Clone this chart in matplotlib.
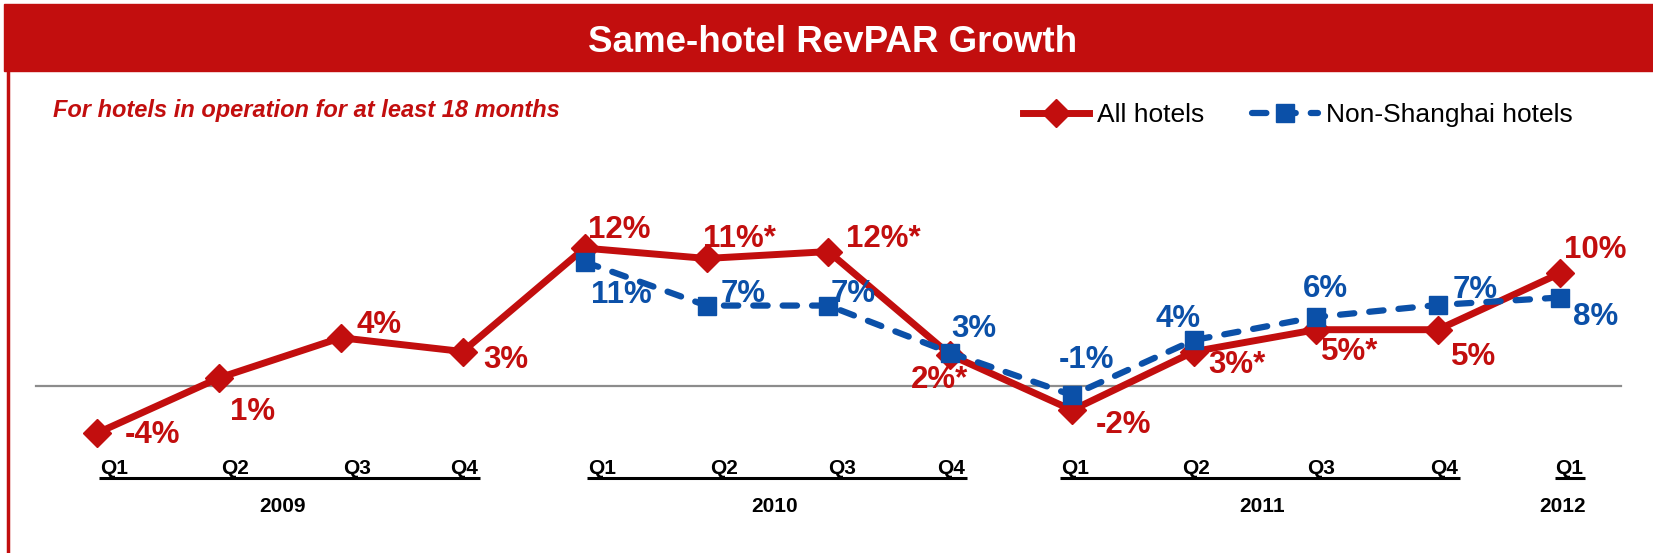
import numpy as np
import matplotlib
matplotlib.use('Agg')
import matplotlib.pyplot as plt
from matplotlib.patches import Rectangle
from matplotlib.lines import Line2D

plt.rcParams['font.family'] = ['Liberation Sans', 'DejaVu Sans']

# ---------------------------------------------------------------- data
quarters = ['Q1', 'Q2', 'Q3', 'Q4', 'Q1', 'Q2', 'Q3', 'Q4',
            'Q1', 'Q2', 'Q3', 'Q4', 'Q1']
years = ['2009', '2010', '2011', '2012']
year_groups = [[0, 1, 2, 3], [4, 5, 6, 7], [8, 9, 10, 11], [12]]

all_hotels = [-4.1, 0.7, 4.2, 3.0, 12.0, 11.1, 11.7, 2.7, -2.1, 3.0, 4.9, 4.9, 9.8]
all_labels = ['-4%', '1%', '4%', '3%', '12%', '11%*', '12%*', '2%*',
              '-2%', '3%*', '5%*', '5%', '10%']

non_sh_idx = [4, 5, 6, 7, 8, 9, 10, 11, 12]
non_sh = [10.8, 7.0, 7.0, 2.9, -0.8, 4.0, 6.0, 7.05, 7.7]
non_sh_labels = ['11%', '7%', '7%', '3%', '-1%', '4%', '6%', '7%', '8%']

# ---------------------------------------------------------------- styles
RED = '#C20E0E'
BLUE = '#0B50A8'
W, H = 1653, 553

# label offsets (pixels, +x right, +y down)
all_off = [(56, 0), (34, 32), (38, -15), (43, 6), (35, -20), (33, -21),
           (55, -15), (-11, 23), (51, 13), (43, 11), (34, 20), (36, 25), (35, -25)]
non_off = [(37, 31), (37, -14), (25, -14), (24, -26), (14, -37), (-16, -23),
           (9, -30), (37, -17), (36, 17)]

# label positions for quarter ticks (index units)
q_pos = [0.14, 1.13, 2.13, 3.01, 4.14, 5.14, 6.11, 7.01,
         8.02, 9.02, 10.04, 11.05, 12.08]
year_pos = [1.52, 5.56, 9.56, 12.02]

fig = plt.figure(figsize=(W / 100, H / 100), dpi=100)
ax = fig.add_axes([0, 0, 1, 1])
ax.axis('off')

# map pixel layout: index 0 at x=97px, step 121.9px; zero at y=386px, 11.49px per %
x0, dx = 97, 121.9
y0, dy = 386, 11.49
ax.set_xlim(-x0 / dx, (W - x0) / dx)
ax.set_ylim(-(H - y0) / dy, y0 / dy)

# title bar
fig.patches.append(Rectangle((4 / W, 1 - 71 / H), 1, 67 / H,
                             transform=fig.transFigure, color=RED, zorder=0))
fig.text(833 / W, 1 - 42 / H, 'Same-hotel RevPAR Growth', color='white',
         fontsize=26.5, fontweight='bold', ha='center', va='center')
fig.add_artist(Line2D([8 / W, 8 / W], [0, 1 - 71 / H], color=RED, lw=2.5,
                      transform=fig.transFigure))
fig.text(53 / W, 1 - 110 / H, 'For hotels in operation for at least 18 months',
         color=RED, fontsize=17, fontweight='bold', fontstyle='italic',
         ha='left', va='center')

# zero line
ax.axhline(0, xmin=36 / W, xmax=1621 / W, color='#8C8C8C', lw=1.6, zorder=1)

x_all = np.arange(len(all_hotels))
ax.plot(x_all, all_hotels, color=RED, lw=5, marker='D', markersize=14,
        solid_joinstyle='miter', zorder=3, label='All hotels')
ax.plot(non_sh_idx, non_sh, color=BLUE, lw=4.5, ls=(0, (2.3, 2.4)),
        dash_capstyle='round', marker='s', markersize=13, zorder=4,
        label='Non-Shanghai hotels')

for i, (v, t, o) in enumerate(zip(all_hotels, all_labels, all_off)):
    ax.annotate(t, (i, v), xytext=(o[0], -o[1] - 2), textcoords='offset pixels',
                color=RED, fontsize=22.5, fontweight='bold',
                ha='center', va='center', zorder=5)
for i, v, t, o in zip(non_sh_idx, non_sh, non_sh_labels, non_off):
    ax.annotate(t, (i, v), xytext=(o[0], -o[1] - 2), textcoords='offset pixels',
                color=BLUE, fontsize=22.5, fontweight='bold',
                ha='center', va='center', zorder=5)

# quarter / year axis labels
q_y = -(468 - y0) / dy
line_y = -(478 - y0) / dy
yr_y = -(506 - y0) / dy
for p, q in zip(q_pos, quarters):
    ax.text(p, q_y, q, fontsize=15, fontweight='bold', ha='center', va='center')
for grp, yr, yp in zip(year_groups, years, year_pos):
    left = q_pos[grp[0]] - 0.12
    right = q_pos[grp[-1]] + 0.13
    ax.plot([left, right], [line_y, line_y], color='black', lw=2.2,
            solid_capstyle='butt', clip_on=False)
    ax.text(yp, yr_y, yr, fontsize=15, fontweight='bold', ha='center', va='center')

leg = ax.legend(loc='center left', bbox_to_anchor=(1023 / W, 1 - 115 / H),
                bbox_transform=fig.transFigure, ncol=2, frameon=False,
                fontsize=19, handlelength=2.5, columnspacing=1.8,
                handletextpad=0.3, borderpad=0, borderaxespad=0)

fig.savefig('out.png', dpi=100)
